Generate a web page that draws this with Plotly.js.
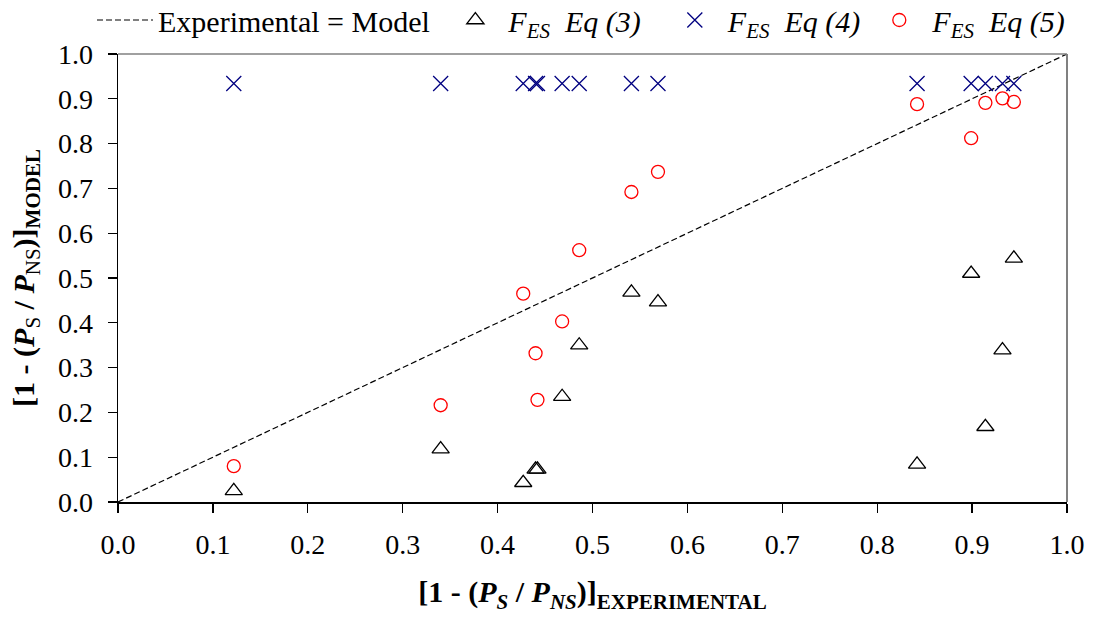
<!DOCTYPE html>
<html>
<head>
<meta charset="utf-8">
<script src="https://cdn.plot.ly/plotly-3.0.1.min.js"></script>
<style>html,body{margin:0;padding:0;background:#fff;}#chart{width:1098px;height:630px;}</style>
</head>
<body>
<div id="chart"></div>
<script>
// Experimental values [1 - (Ps/Pns)]
var xExperimental = [0.122, 0.340, 0.427, 0.440, 0.442, 0.468, 0.486, 0.541, 0.569, 0.842, 0.899, 0.914, 0.932, 0.944];
// Model values
var modelEq3 = [0.025, 0.118, 0.043, 0.073, 0.073, 0.235, 0.350, 0.468, 0.446, 0.084, 0.510, 0.168, 0.339, 0.544];
var modelEq4 = [0.934, 0.934, 0.934, 0.934, 0.934, 0.934, 0.934, 0.934, 0.934, 0.934, 0.934, 0.934, 0.934, 0.934];
var modelEq5 = [0.080, 0.216, 0.465, 0.332, 0.228, 0.403, 0.562, 0.692, 0.737, 0.888, 0.812, 0.891, 0.901, 0.893];
// Identity line
var identityX = [0, 1];
var identityY = [0, 1];
var tickVals = [0, 0.1, 0.2, 0.3, 0.4, 0.5, 0.6, 0.7, 0.8, 0.9, 1.0];

var FONT = 'Liberation Serif';
var NB = '\u00a0';

var traces = [
  {x: identityX, y: identityY, mode: 'lines', name: 'Experimental = Model' + NB,
   line: {color: '#000', width: 1.2, dash: '6px,3px'}, hoverinfo: 'skip'},
  {x: xExperimental, y: modelEq3, mode: 'markers', name: '<i>F<sub>ES</sub>' + NB + NB + 'Eq (3)</i>' + NB + NB,
   marker: {symbol: 'triangle-up-open', size: 15, color: '#000', line: {width: 1.3, color: '#000'}}, cliponaxis: false},
  {x: xExperimental, y: modelEq4, mode: 'markers', name: '<i>F<sub>ES</sub>' + NB + NB + 'Eq (4)</i>',
   marker: {symbol: 'x-thin-open', size: 15, color: '#000080', line: {width: 1.3, color: '#000080'}}, cliponaxis: false},
  {x: xExperimental, y: modelEq5, mode: 'markers', name: '<i>F<sub>ES</sub>' + NB + NB + 'Eq (5)</i>',
   marker: {symbol: 'circle-open', size: 13, color: '#ff0000', line: {width: 1.3, color: '#ff0000'}}, cliponaxis: false}
];

var layout = {
  width: 1098, height: 630,
  margin: {l: 118, r: 31, t: 54, b: 128, autoexpand: false},
  paper_bgcolor: '#fff', plot_bgcolor: '#fff',
  font: {family: FONT, size: 28, color: '#000'},
  showlegend: true,
  legend: {orientation: 'h', x: -26/949, xanchor: 'left', y: 1.0 + 60/448, yanchor: 'top',
           font: {family: FONT, size: 30, color: '#000'}, bgcolor: 'rgba(0,0,0,0)', borderwidth: 0,
           itemwidth: 56, tracegroupgap: 0},
  xaxis: {range: [0, 1], tickvals: tickVals, tickformat: '.1f', showgrid: false, zeroline: false,
          showline: true, linecolor: '#000', linewidth: 1.5, ticks: 'outside', ticklen: 9, tickwidth: 1.2, tickcolor: '#000',
          tickfont: {family: FONT, size: 28, color: '#000'}, ticklabelstandoff: 8, fixedrange: true,
          title: {text: '<b>[1 - (<i>P</i><sub><i>S</i></sub> / <i>P</i><sub><i>NS</i></sub>)]<sub>EXPERIMENTAL</sub></b>',
                  font: {family: FONT, size: 30, color: '#000'}, standoff: 22}},
  yaxis: {range: [0, 1], tickvals: tickVals, tickformat: '.1f', showgrid: false, zeroline: false,
          showline: true, linecolor: '#000', linewidth: 1.5, ticks: 'outside', ticklen: 9, tickwidth: 1.2, tickcolor: '#000',
          tickfont: {family: FONT, size: 28, color: '#000'}, ticklabelstandoff: 9, fixedrange: true,
          title: {text: '<b>[1 - (<i>P</i></b><sub>S</sub><b> / <i>P</i></b><sub>NS</sub><b>)]<sub>MODEL</sub></b>',
                  font: {family: FONT, size: 30, color: '#000'}, standoff: 14}},
  shapes: [
    {type: 'line', xref: 'paper', yref: 'paper', x0: 0, x1: 1, y0: 1, y1: 1, line: {color: '#808080', width: 1.5}},
    {type: 'line', xref: 'paper', yref: 'paper', x0: 1, x1: 1, y0: 0, y1: 1, line: {color: '#808080', width: 2}}
  ]
};

Plotly.newPlot('chart', traces, layout, {displayModeBar: false, staticPlot: true});
</script>
</body>
</html>
